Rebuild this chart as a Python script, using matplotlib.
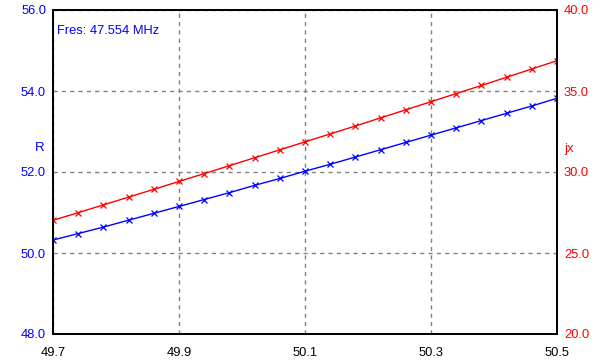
import matplotlib
matplotlib.use('Agg')
import matplotlib.pyplot as plt

plt.rcParams['font.family'] = ['Liberation Sans', 'DejaVu Sans']

# frequency sweep (MHz)
freq = [49.70, 49.74, 49.78, 49.82, 49.86, 49.90, 49.94, 49.98, 50.02, 50.06, 50.10,
        50.14, 50.18, 50.22, 50.26, 50.30, 50.34, 50.38, 50.42, 50.46, 50.50]
# resistance R
r_vals = [50.32, 50.48, 50.64, 50.81, 50.98, 51.15, 51.32, 51.49, 51.67, 51.84, 52.02,
          52.19, 52.37, 52.55, 52.73, 52.91, 53.09, 53.27, 53.45, 53.63, 53.82]
# reactance jx
jx_vals = [27.02, 27.49, 27.97, 28.45, 28.93, 29.42, 29.90, 30.39, 30.88, 31.37, 31.86,
           32.35, 32.84, 33.34, 33.84, 34.34, 34.84, 35.34, 35.85, 36.36, 36.87]

x_ticks = [49.7, 49.9, 50.1, 50.3, 50.5]
r_ticks = [48.0, 50.0, 52.0, 54.0, 56.0]
jx_ticks = [20.0, 25.0, 30.0, 35.0, 40.0]

fig = plt.figure(figsize=(6.07, 3.63), dpi=100)
ax = fig.add_axes([53/607, 29/363, 504/607, 324/363])
ax2 = ax.twinx()

ax.plot(freq, r_vals, color='#0000ff', lw=1, marker='x', ms=5, mew=0.9)
ax2.plot(freq, jx_vals, color='#ff0000', lw=1, marker='x', ms=5, mew=0.9)

ax.set_xlim(49.7, 50.5)
ax.set_ylim(48, 56)
ax2.set_ylim(20, 40)

ax.set_xticks(x_ticks)
ax.set_xticklabels([f'{t:.1f}' for t in x_ticks])
ax.set_yticks(r_ticks)
ax.set_yticklabels([f'{t:.1f}' for t in r_ticks])
ax2.set_yticks(jx_ticks)
ax2.set_yticklabels([f'{t:.1f}' for t in jx_ticks])

ax.tick_params(axis='x', length=0, pad=9, labelsize=9.3, labelcolor='black')
ax.tick_params(axis='y', length=0, pad=5, labelsize=9.3, labelcolor='#0000ff')
ax2.tick_params(axis='y', length=0, pad=5, labelsize=9.3, labelcolor='#ff0000')

ax.grid(True, color='#808080', linestyle=(0, (3, 3)), lw=1)
for a in (ax, ax2):
    for s in a.spines.values():
        s.set_linewidth(1.3)
        s.set_color('black')

fig.text(40/607, 1 - 148/363, 'R', color='#0000ff', fontsize=9.5, ha='center', va='center')
fig.text(569/607, 1 - 149/363, 'jx', color='#ff0000', fontsize=9.5, ha='center', va='center')
ax.text(0.008, 0.955, 'Fres: 47.554 MHz', transform=ax.transAxes, color='#0000ff',
        fontsize=9.3, ha='left', va='top')

fig.savefig('out.png', dpi=100)
